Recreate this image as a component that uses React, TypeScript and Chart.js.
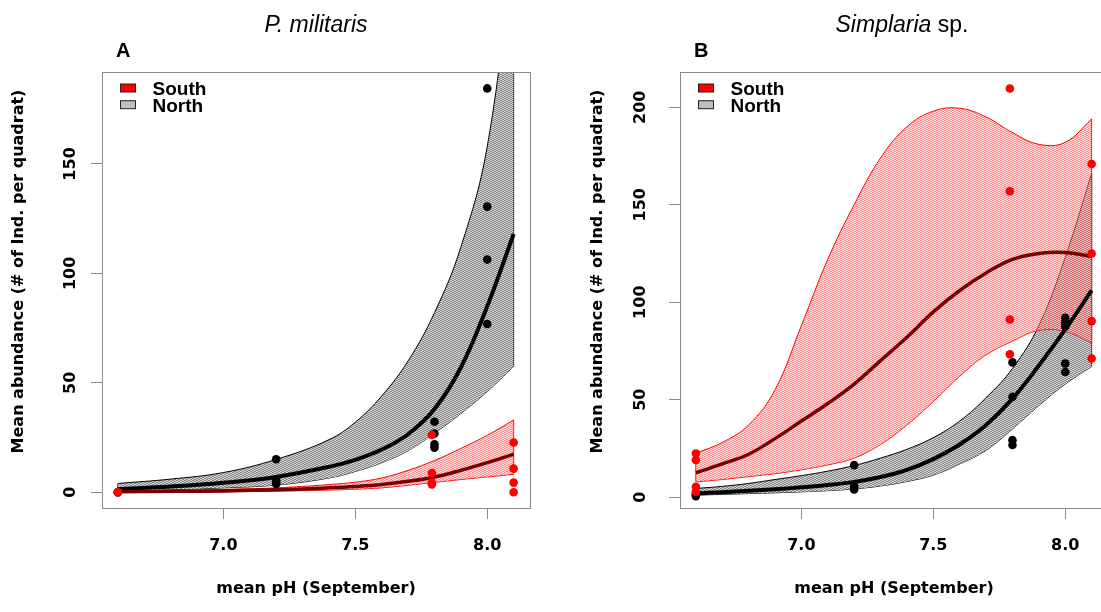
import React, { useEffect, useRef } from 'react';
import { Chart, registerables } from 'chart.js';

Chart.register(...registerables);

// ---------- shared axis text ----------
const seriesNames = ['South', 'North'];
const xTitle = 'mean pH (September)';
const yTitle = 'Mean abundance (# of Ind. per quadrat)';
const xTickValues = [7.0, 7.5, 8.0];
const xTickLabels = ['7.0', '7.5', '8.0'];
const yTickValuesA = [0, 50, 100, 150];
const yTickLabelsA = ['0', '50', '100', '150'];
const yTickValuesB = [0, 50, 100, 150, 200];
const yTickLabelsB = ['0', '50', '100', '150', '200'];

// ---------- Panel A : P. militaris ----------
const northPtPhA = [6.6, 6.6, 7.2, 7.2, 7.2, 7.2, 7.8, 7.8, 7.8, 7.8, 8.0, 8.0, 8.0, 8.0];
const northPtValA = [0, 0, 15.1, 5.5, 4.5, 3.8, 32.2, 26.8, 21.9, 20.4, 184.5, 130.5, 106.3, 76.9];
const southPtPhA = [6.6, 6.6, 7.79, 7.79, 7.79, 7.79, 8.1, 8.1, 8.1, 8.1];
const southPtValA = [0, 0, 26.2, 8.8, 4.4, 3.6, 22.7, 10.8, 4.4, 0];

const gridA = [6.6, 6.8, 7.0, 7.2, 7.4, 7.5, 7.6, 7.7, 7.8, 7.9, 8.0, 8.1];
const northFitA = [1.5, 2.6, 4.3, 7.0, 11.6, 14.8, 19.5, 26.5, 38, 57, 85, 118];
const northUpperA = [4, 6, 9, 15, 24, 32, 44, 60, 82, 112, 158, 250];
const northLowerA = [0.6, 1.2, 2.0, 3.3, 6.5, 9.5, 13.5, 19, 27, 36, 46, 57.5];
const southFitA = [0.2, 0.4, 0.6, 1.1, 2.0, 2.6, 3.5, 5.0, 7.0, 10, 13.5, 17.4];
const southUpperA = [0.6, 0.9, 1.3, 2.0, 3.5, 4.6, 6.5, 10, 14.5, 20, 26, 33];
const southLowerA = [0, 0.1, 0.2, 0.5, 1.0, 1.4, 2.0, 3.2, 4.5, 5.8, 7.0, 8.2];

// ---------- Panel B : Simplaria sp. ----------
const northPtPhB = [6.6, 6.6, 7.2, 7.2, 7.2, 7.8, 7.8, 7.8, 7.8, 8.0, 8.0, 8.0, 8.0, 8.0];
const northPtValB = [0.5, 1.5, 16.4, 5.6, 3.9, 69.1, 51.4, 29.2, 26.7, 92, 89.5, 87.5, 68.5, 64.2];
const southPtPhB = [6.6, 6.6, 6.6, 6.6, 7.79, 7.79, 7.79, 7.79, 8.1, 8.1, 8.1, 8.1];
const southPtValB = [22.4, 19, 5.3, 2.7, 209.6, 156.9, 91.1, 73.3, 170.9, 125, 90.3, 71.1];

const gridB = [6.6, 6.7, 6.8, 6.9, 7.0, 7.1, 7.2, 7.3, 7.4, 7.5, 7.6, 7.7, 7.8, 7.9, 8.0, 8.1];
const southFitB = [12.5, 17, 22, 30, 39, 48, 58, 70, 82, 95, 106, 115, 122, 125, 125.5, 123.5];
const southUpperB = [22.5, 28, 37, 55, 88, 122, 150, 174, 190, 198, 199.5, 195, 187, 181, 182, 194];
const southLowerB = [7.8, 9, 10.5, 12, 14, 16.5, 20, 27, 37, 49, 62, 73, 80, 85.5, 85, 79];
const northFitB = [1.9, 2.5, 3.2, 4, 5, 6.2, 7.8, 10.3, 14, 19.5, 27, 37, 50.5, 67.5, 86, 106];
const northUpperB = [4.4, 5.5, 7, 9, 11, 13.3, 16.2, 20, 24.5, 30.5, 39, 51, 66, 88, 123, 166];
const northLowerB = [1, 1.4, 1.8, 2.2, 2.7, 3.3, 4.2, 5.7, 8, 11.3, 17, 24, 35, 47, 58, 67];

const FONT_AXIS = '"DejaVu Sans", sans-serif';
const FONT_SANS = '"Liberation Sans", Arial, sans-serif';

function makePattern(ctx: CanvasRenderingContext2D, fg: string, bg: string) {
  const c = document.createElement('canvas');
  c.width = 4;
  c.height = 2;
  const g = c.getContext('2d') as CanvasRenderingContext2D;
  g.fillStyle = bg;
  g.fillRect(0, 0, 4, 2);
  g.fillStyle = fg;
  for (let i = 0; i < 4; i++) g.fillRect(i, Math.floor(i / 2), 1, 1);
  return ctx.createPattern(c, 'repeat') as CanvasPattern;
}

type PanelCfg = {
  grid: number[];
  northFit: number[]; northUpper: number[]; northLower: number[];
  southFit: number[]; southUpper: number[]; southLower: number[];
  northPtPh: number[]; northPtVal: number[];
  southPtPh: number[]; southPtVal: number[];
  yMin: number; yMax: number;
  yTicks: number[]; yTickLabels: string[];
  yWidth: number; padRight: number;
  yLabelX: number; yTitleX: number;
  titleShift: number;
  letter: string;
  titleRuns: { text: string; italic: boolean }[];
};

const panelA: PanelCfg = {
  grid: gridA,
  northFit: northFitA, northUpper: northUpperA, northLower: northLowerA,
  southFit: southFitA, southUpper: southUpperA, southLower: southLowerA,
  northPtPh: northPtPhA, northPtVal: northPtValA,
  southPtPh: southPtPhA, southPtVal: southPtValA,
  yMin: -7.2, yMax: 192,
  yTicks: yTickValuesA, yTickLabels: yTickLabelsA,
  yWidth: 102, padRight: 30,
  yLabelX: 71, yTitleX: 18.5,
  titleShift: 0,
  letter: 'A',
  titleRuns: [{ text: 'P. militaris', italic: true }],
};

const panelB: PanelCfg = {
  grid: gridB,
  northFit: northFitB, northUpper: northUpperB, northLower: northLowerB,
  southFit: southFitB, southUpper: southUpperB, southLower: southLowerB,
  northPtPh: northPtPhB, northPtVal: northPtValB,
  southPtPh: southPtPhB, southPtVal: southPtValB,
  yMin: -5.6, yMax: 218.1,
  yTicks: yTickValuesB, yTickLabels: yTickLabelsB,
  yWidth: 120, padRight: 12,
  yLabelX: 81, yTitleX: 37.5,
  titleShift: 8,
  letter: 'B',
  titleRuns: [{ text: 'Simplaria', italic: true }, { text: ' sp.', italic: false }],
};

const X_MIN = 6.54;
const X_MAX = 8.162;

function pts(xs: number[], ys: number[]) {
  return xs.map((x, i) => ({ x, y: ys[i] }));
}

function buildChart(canvas: HTMLCanvasElement, p: PanelCfg) {
  const ctx = canvas.getContext('2d') as CanvasRenderingContext2D;
  const redPat = makePattern(ctx, 'rgba(255,0,0,0.36)', 'rgba(255,185,185,0.45)');
  const greyPat = makePattern(ctx, 'rgba(0,0,0,0.36)', 'rgba(212,212,212,1)');
  const g = p.grid;
  const last = g.length - 1;

  const lineBase = { type: 'line' as const, pointRadius: 0, pointHoverRadius: 0, tension: 0.4, clip: 0 };

  const datasets: any[] = [
    // 0 south points
    { type: 'scatter', label: seriesNames[0], data: pts(p.southPtPh, p.southPtVal), backgroundColor: '#ff0000', borderWidth: 0, pointRadius: 4.3, order: 0 },
    // 1 north points
    { type: 'scatter', label: seriesNames[1], data: pts(p.northPtPh, p.northPtVal), backgroundColor: '#000000', borderWidth: 0, pointRadius: 4.3, order: 1 },
    // 2 south fit
    { ...lineBase, data: pts(g, p.southFit), borderColor: '#7a0000', borderWidth: 3.5, fill: false, order: 2 },
    // 3 north fit
    { ...lineBase, data: pts(g, p.northFit), borderColor: '#000000', borderWidth: 4, fill: false, order: 3 },
    // 4 south upper (fills to 5)
    { ...lineBase, data: pts(g, p.southUpper), borderColor: '#ff0000', borderWidth: 1, fill: 5, backgroundColor: redPat, order: 4 },
    // 5 south lower
    { ...lineBase, data: pts(g, p.southLower), borderColor: '#ff0000', borderWidth: 1, fill: false, order: 5 },
    // 6,7 south band ends
    { ...lineBase, tension: 0, data: [{ x: g[0], y: p.southLower[0] }, { x: g[0], y: p.southUpper[0] }], borderColor: '#ff0000', borderWidth: 1, fill: false, order: 5 },
    { ...lineBase, tension: 0, data: [{ x: g[last], y: p.southLower[last] }, { x: g[last], y: p.southUpper[last] }], borderColor: '#ff0000', borderWidth: 1, fill: false, order: 5 },
    // 8 north upper (fills to 9)
    { ...lineBase, data: pts(g, p.northUpper), borderColor: '#000000', borderWidth: 1, fill: 9, backgroundColor: greyPat, order: 8 },
    // 9 north lower
    { ...lineBase, data: pts(g, p.northLower), borderColor: '#000000', borderWidth: 1, fill: false, order: 9 },
    // 10,11 north band ends
    { ...lineBase, tension: 0, data: [{ x: g[0], y: p.northLower[0] }, { x: g[0], y: p.northUpper[0] }], borderColor: '#000000', borderWidth: 1, fill: false, order: 9 },
    { ...lineBase, tension: 0, data: [{ x: g[last], y: p.northLower[last] }, { x: g[last], y: p.northUpper[last] }], borderColor: '#000000', borderWidth: 1, fill: false, order: 9 },
  ];

  const decor = {
    id: 'decor',
    afterDraw(chart: any) {
      const c = chart.ctx as CanvasRenderingContext2D;
      const a = chart.chartArea;
      const ys = chart.scales.y;
      c.save();
      // box
      c.strokeStyle = '#8a8a8a';
      c.lineWidth = 1;
      c.strokeRect(Math.round(a.left) + 0.5, Math.round(a.top) + 0.5, Math.round(a.right - a.left), Math.round(a.bottom - a.top));
      // y tick labels (rotated like R)
      c.fillStyle = '#000';
      c.font = `bold 16px ${FONT_AXIS}`;
      c.textAlign = 'center';
      c.textBaseline = 'middle';
      p.yTicks.forEach((v, i) => {
        const py = ys.getPixelForValue(v);
        c.save();
        c.translate(p.yLabelX, py);
        c.rotate(-Math.PI / 2);
        c.fillText(p.yTickLabels[i], 0, 0);
        c.restore();
      });
      // y title
      c.save();
      c.translate(p.yTitleX, 271.5);
      c.rotate(-Math.PI / 2);
      c.fillText(yTitle, 0, 0);
      c.restore();
      // main title
      c.textBaseline = 'alphabetic';
      c.textAlign = 'left';
      const fonts = p.titleRuns.map((r) => `${r.italic ? 'italic ' : ''}23px ${FONT_SANS}`);
      let total = 0;
      p.titleRuns.forEach((r, i) => { c.font = fonts[i]; total += c.measureText(r.text).width; });
      let tx = (a.left + a.right) / 2 + p.titleShift - total / 2;
      p.titleRuns.forEach((r, i) => { c.font = fonts[i]; c.fillText(r.text, tx, 32); tx += c.measureText(r.text).width; });
      // panel letter
      c.font = `bold 20px ${FONT_SANS}`;
      c.fillText(p.letter, a.left + 14, 57);
      // legend
      const colors = ['#ff0000', '#bebebe'];
      c.font = `bold 19px ${FONT_SANS}`;
      seriesNames.forEach((name, i) => {
        const ry = 84 + i * 16.7;
        c.fillStyle = colors[i];
        c.fillRect(a.left + 18.5, ry, 15, 8);
        c.strokeStyle = '#222';
        c.lineWidth = 1;
        c.strokeRect(a.left + 18.5, ry, 15, 8);
        c.fillStyle = '#000';
        c.fillText(name, a.left + 50.5, 95 + i * 16.7);
      });
      c.restore();
    },
  };

  const tickGrid = { display: true, drawOnChartArea: false, drawTicks: true, tickLength: 11, color: '#8a8a8a', lineWidth: 1 };

  return new Chart(ctx, {
    type: 'line',
    data: { datasets },
    options: {
      animation: false,
      responsive: false,
      devicePixelRatio: 1,
      events: [],
      layout: { padding: { top: 72, right: p.padRight, left: 0, bottom: 0 } },
      plugins: { legend: { display: false }, tooltip: { enabled: false }, title: { display: false } },
      scales: {
        x: {
          type: 'linear',
          min: X_MIN,
          max: X_MAX,
          afterBuildTicks: (s: any) => { s.ticks = xTickValues.map((v) => ({ value: v })); },
          afterFit: (s: any) => { s.height = 104; },
          grid: tickGrid,
          border: { display: false },
          ticks: {
            autoSkip: false,
            maxRotation: 0,
            minRotation: 0,
            padding: 17,
            color: '#000',
            font: { family: FONT_AXIS, weight: 'bold', size: 16 },
            callback: (_v: any, i: number) => xTickLabels[i],
          },
          title: { display: true, text: xTitle, color: '#000', padding: 14, font: { family: FONT_AXIS, weight: 'bold', size: 16 } },
        },
        y: {
          type: 'linear',
          min: p.yMin,
          max: p.yMax,
          afterBuildTicks: (s: any) => { s.ticks = p.yTicks.map((v) => ({ value: v })); },
          afterFit: (s: any) => { s.width = p.yWidth; },
          grid: tickGrid,
          border: { display: false },
          ticks: { display: false },
        },
      },
    } as any,
    plugins: [decor],
  });
}

function Panel({ cfg, left }: { cfg: PanelCfg; left: number }) {
  const ref = useRef<HTMLCanvasElement | null>(null);
  useEffect(() => {
    if (!ref.current) return;
    const chart = buildChart(ref.current, cfg);
    return () => chart.destroy();
  }, [cfg]);
  return <canvas ref={ref} width={560} height={612} style={{ position: 'absolute', left, top: 0, width: 560, height: 612 }} />;
}

export default function App() {
  return (
    <div style={{ position: 'fixed', left: 0, top: 0, width: 1101, height: 612, overflow: 'hidden', background: '#ffffff' }}>
      <Panel cfg={panelA} left={0} />
      <Panel cfg={panelB} left={560} />
    </div>
  );
}
